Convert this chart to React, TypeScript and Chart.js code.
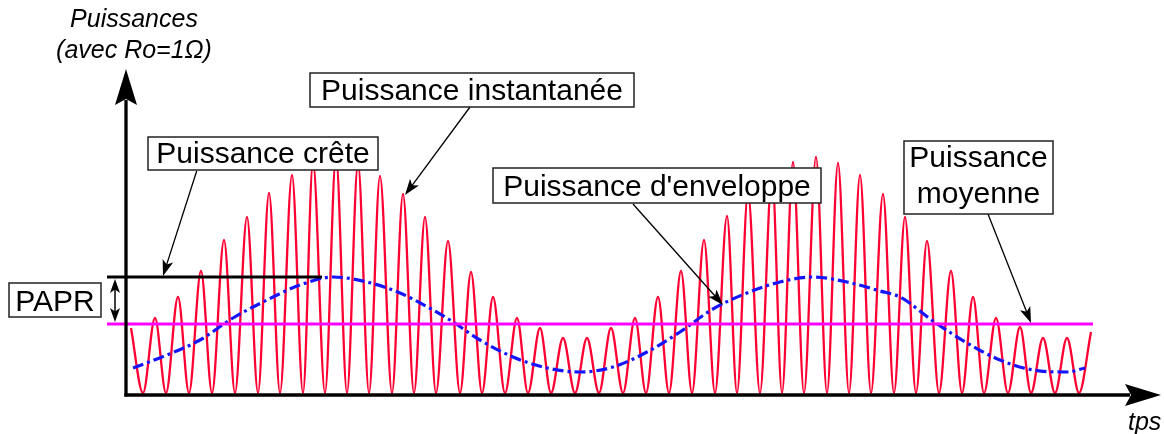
import { useEffect, useRef } from 'react';
import { Chart, registerables } from 'chart.js';

Chart.register(...registerables);

// ---- Data (time t in arbitrary units, power p in arbitrary units, Ro = 1 ohm) ----
// Instantaneous power: successive crests (start, 41 crests, end)
const crestT = [0.5, 2.9, 5.2, 7.5, 9.8, 12.1, 14.3, 16.6, 18.7, 21.0, 23.2, 25.4, 27.7, 29.9, 32.2, 34.5, 36.7, 39.1, 41.4, 43.7, 46.1, 48.5, 50.9, 53.2, 55.5, 57.8, 60.1, 62.2, 64.6, 66.7, 69.0, 71.2, 73.4, 75.7, 77.9, 80.1, 82.5, 84.7, 87.0, 89.4, 91.7, 94.1, 96.5];
const crestP = [6.5, 7.5, 9.6, 12.2, 15.3, 17.6, 20.0, 21.8, 23.1, 23.6, 23.0, 21.7, 19.9, 17.6, 15.2, 12.1, 9.6, 7.5, 6.5, 5.5, 5.5, 6.5, 7.5, 9.6, 12.2, 15.3, 17.7, 20.0, 21.8, 23.1, 23.6, 23.0, 21.8, 19.9, 17.6, 15.2, 12.2, 9.6, 7.5, 6.6, 5.5, 5.5, 6.1];
// Instantaneous power: troughs between crests
const troughT = [1.7, 4.0, 6.3, 8.6, 10.9, 13.2, 15.4, 17.7, 19.9, 22.1, 24.3, 26.6, 28.8, 31.0, 33.4, 35.6, 37.9, 40.2, 42.5, 44.9, 47.3, 49.7, 52.0, 54.3, 56.6, 58.9, 61.1, 63.4, 65.6, 67.8, 70.1, 72.3, 74.5, 76.8, 79.0, 81.3, 83.6, 85.8, 88.2, 90.5, 92.9, 95.3];
const troughP = [0, 0, 0, 0, 0, 0, 0, 0, 0, 0, 0, 0, 0, 0, 0, 0, 0, 0, 0, 0, 0, 0, 0, 0, 0, 0, 0, 0, 0, 0, 0, 0, 0, 0, 0, 0, 0, 0, 0, 0, 0, 0];
// Envelope power
const envT = [0.7, 4.1, 7.4, 10.7, 14.1, 17.4, 20.7, 24.1, 27.4, 30.7, 32.4, 35.4, 38.7, 42.1, 45.4, 48.7, 52.1, 55.4, 58.7, 62.1, 65.4, 68.7, 72.1, 75.4, 77.4, 80.7, 84.1, 87.4, 90.7, 94.1, 95.9];
const envP = [2.5, 3.8, 5.3, 7.5, 9.3, 10.8, 11.6, 11.1, 10.0, 8.3, 7.3, 5.3, 3.6, 2.5, 2.1, 2.6, 4.1, 6.1, 8.4, 10.0, 11.1, 11.6, 11.1, 10.2, 9.6, 7.2, 5.0, 3.3, 2.3, 2.1, 2.5];
// Peak envelope power (crête) and mean power levels, with their extents
const peakLevel = 11.6;
const peakSpan = [-1.9, 19.6];
const meanLevel = 6.9;
const meanSpan = [-1.9, 96.7];

// Labels
const yTitle = ['Puissances', '(avec Ro=1\u03A9)'];
const xTitle = 'tps';
const lblCrete = 'Puissance crête';
const lblInst = 'Puissance instantanée';
const lblEnv = "Puissance d'enveloppe";
const lblMoy = ['Puissance', 'moyenne'];
const lblPapr = 'PAPR';

const FONT = '"Liberation Sans", Arial, Helvetica, sans-serif';

function head(ctx: CanvasRenderingContext2D, tx: number, ty: number, ang: number, len: number, hw: number, notch: number) {
  const dx = Math.cos(ang), dy = Math.sin(ang);
  const px = -dy, py = dx;
  ctx.beginPath();
  ctx.moveTo(tx, ty);
  ctx.lineTo(tx - len * dx + hw * px, ty - len * dy + hw * py);
  ctx.lineTo(tx - (len - notch) * dx, ty - (len - notch) * dy);
  ctx.lineTo(tx - len * dx - hw * px, ty - len * dy - hw * py);
  ctx.closePath();
  ctx.fill();
}

function arrow(ctx: CanvasRenderingContext2D, x0: number, y0: number, x1: number, y1: number) {
  const ang = Math.atan2(y1 - y0, x1 - x0);
  ctx.lineWidth = 1.3;
  ctx.beginPath();
  ctx.moveTo(x0, y0);
  ctx.lineTo(x1 - 8 * Math.cos(ang), y1 - 8 * Math.sin(ang));
  ctx.stroke();
  head(ctx, x1, y1, ang, 16, 5.5, 4);
}

function box(ctx: CanvasRenderingContext2D, x: number, y: number, w: number, h: number, lines: string[], baselines: number[]) {
  ctx.fillStyle = '#fff';
  ctx.fillRect(x, y, w, h);
  ctx.strokeStyle = '#222';
  ctx.lineWidth = 1.5;
  ctx.strokeRect(x, y, w, h);
  ctx.fillStyle = '#000';
  ctx.font = `30px ${FONT}`;
  ctx.textAlign = 'center';
  ctx.textBaseline = 'alphabetic';
  lines.forEach((l, i) => ctx.fillText(l, x + w / 2, baselines[i]));
}

const annot = {
  id: 'annot',
  afterDatasetsDraw(chart: any) {
    const ctx: CanvasRenderingContext2D = chart.ctx;
    const xs = chart.scales.x, ys = chart.scales.y;
    const X = (t: number) => xs.getPixelForValue(t);
    const Y = (p: number) => ys.getPixelForValue(p);
    ctx.save();
    ctx.strokeStyle = '#000';
    ctx.fillStyle = '#000';

    // Axes
    const ax = X(0);
    const ay = Y(0) + 2;
    ctx.lineWidth = 3.3;
    ctx.beginPath();
    ctx.moveTo(ax, ay + 1.6);
    ctx.lineTo(ax, 100);
    ctx.stroke();
    head(ctx, ax, 69, -Math.PI / 2, 36, 11, 6);
    ctx.beginPath();
    ctx.moveTo(ax - 1.6, ay);
    ctx.lineTo(1130, ay);
    ctx.stroke();
    head(ctx, 1161, ay, 0, 36, 11, 6);

    // Axis titles
    ctx.font = `italic 25px ${FONT}`;
    ctx.textAlign = 'center';
    ctx.textBaseline = 'alphabetic';
    ctx.fillText(yTitle[0], 134, 27);
    ctx.fillText(yTitle[1], 134, 58);
    ctx.textAlign = 'left';
    ctx.fillText(xTitle, 1128, 430);

    // PAPR double arrow
    const pa = X(-1.1);
    const y1 = Y(peakLevel) + 2, y2 = Y(meanLevel) - 2;
    ctx.lineWidth = 1.5;
    ctx.beginPath();
    ctx.moveTo(pa, y1 + 8);
    ctx.lineTo(pa, y2 - 8);
    ctx.stroke();
    head(ctx, pa, y1, -Math.PI / 2, 14, 5, 3.5);
    head(ctx, pa, y2, Math.PI / 2, 14, 5, 3.5);

    // Callout arrows
    ctx.strokeStyle = '#000';
    ctx.fillStyle = '#000';
    arrow(ctx, 196.7, 171, X(3.7), Y(peakLevel) - 1);
    arrow(ctx, 470, 107, 405, 195);
    arrow(ctx, 633, 204, 723, 305);
    arrow(ctx, 988, 214, 1031, Y(meanLevel) - 1);

    // Label boxes
    box(ctx, 148, 137, 230, 33, [lblCrete], [163]);
    box(ctx, 310, 73, 324, 34, [lblInst], [100]);
    box(ctx, 493, 168, 328, 35, [lblEnv], [196]);
    box(ctx, 904, 141, 149, 73, lblMoy, [167, 203]);
    box(ctx, 9, 283, 92, 34, [lblPapr], [311]);

    ctx.restore();
  },
};

export default function App() {
  const ref = useRef<HTMLCanvasElement>(null);
  useEffect(() => {
    const inst: { x: number; y: number }[] = [];
    crestT.forEach((t, i) => inst.push({ x: t, y: crestP[i] }));
    troughT.forEach((t, i) => inst.push({ x: t, y: troughP[i] }));
    inst.sort((a, b) => a.x - b.x);
    const env = envT.map((t, i) => ({ x: t, y: envP[i] }));
    const peak = peakSpan.map((t) => ({ x: t, y: peakLevel }));
    const mean = meanSpan.map((t) => ({ x: t, y: meanLevel }));

    const chart = new Chart(ref.current!, {
      type: 'line',
      data: {
        datasets: [
          { label: 'Puissance crête', data: peak, borderColor: '#000', borderWidth: 3, pointRadius: 0, order: 0, clip: false as any },
          { label: 'Puissance moyenne', data: mean, borderColor: '#ff00ff', borderWidth: 3, pointRadius: 0, order: 1, clip: false as any },
          { label: "Puissance d'enveloppe", data: env, borderColor: '#1515ff', borderWidth: 3.2, borderDash: [11, 4, 3, 4], pointRadius: 0, cubicInterpolationMode: 'monotone', order: 2, clip: false as any },
          { label: 'Puissance instantanée', data: inst, borderColor: '#ff0033', borderWidth: 2.3, pointRadius: 0, cubicInterpolationMode: 'monotone', order: 3, clip: false as any },
        ],
      },
      options: {
        animation: false,
        responsive: false,
        events: [],
        layout: { padding: { left: 106, right: 0, top: 63, bottom: 41 } },
        scales: {
          x: { type: 'linear', min: -2, max: 103.8, display: false },
          y: { type: 'linear', min: 0, max: 33, display: false },
        },
        plugins: { legend: { display: false }, tooltip: { enabled: false }, title: { display: false } },
      },
      plugins: [annot],
    });
    return () => chart.destroy();
  }, []);
  return (
    <div style={{ position: 'fixed', left: 0, top: 0, width: 1164, height: 434, background: '#fff' }}>
      <canvas ref={ref} width={1164} height={434} style={{ display: 'block', width: 1164, height: 434 }} />
    </div>
  );
}
